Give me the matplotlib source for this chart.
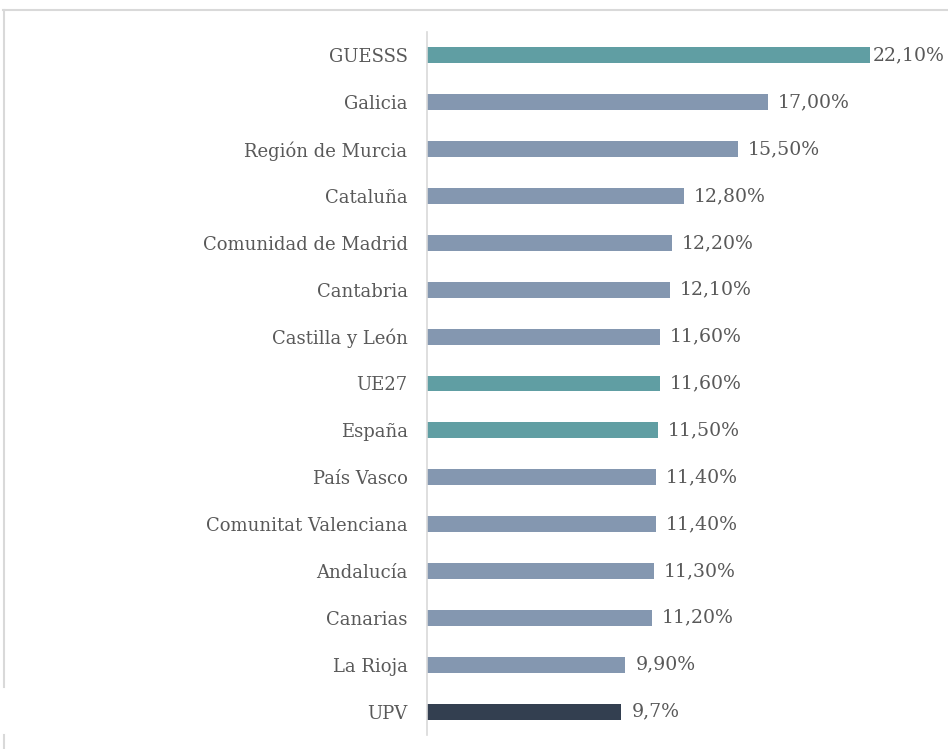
import matplotlib
matplotlib.use("Agg")
import matplotlib.pyplot as plt
from matplotlib.lines import Line2D

categories = ["GUESSS", "Galicia", "Región de Murcia", "Cataluña", "Comunidad de Madrid",
              "Cantabria", "Castilla y León", "UE27", "España", "País Vasco",
              "Comunitat Valenciana", "Andalucía", "Canarias", "La Rioja", "UPV"]
values = [22.1, 17.0, 15.5, 12.8, 12.2, 12.1, 11.6, 11.6, 11.5, 11.4, 11.4, 11.3, 11.2, 9.9, 9.7]
value_labels = ["22,10%", "17,00%", "15,50%", "12,80%", "12,20%", "12,10%", "11,60%", "11,60%",
                "11,50%", "11,40%", "11,40%", "11,30%", "11,20%", "9,90%", "9,7%"]
groups = ["ref", "reg", "reg", "reg", "reg", "reg", "reg", "ref", "ref", "reg",
          "reg", "reg", "reg", "reg", "upv"]

color_map = {"ref": "#609EA3", "reg": "#8497B0", "upv": "#333F50"}
text_color = "#595959"
font = "DejaVu Serif"

W, H = 948, 749
fig = plt.figure(figsize=(W / 100, H / 100), dpi=100)
ax = fig.add_axes([427 / W, 1 - 735 / H, (W - 427) / W, (735 - 32) / H])

ypos = list(range(len(categories)))
ax.barh(ypos, values, height=0.34, color=[color_map[g] for g in groups])
ax.set_ylim(len(categories) - 0.5, -0.5)
ax.set_xlim(0, (W - 427) / 20.05)

for i, (v, lab) in enumerate(zip(values, value_labels)):
    off = 3 if i == 0 else 10
    ax.annotate(lab, (v, i), xytext=(off * 0.72, 0), textcoords="offset points",
                ha="left", va="center", fontsize=13.6, color=text_color,
                family=font, annotation_clip=False)

ax.set_yticks(ypos)
ax.set_yticklabels(categories, family=font, fontsize=13, color=text_color)
ax.tick_params(axis="y", length=0, pad=14)
ax.set_xticks([])
for s in ["top", "right", "bottom"]:
    ax.spines[s].set_visible(False)
ax.spines["left"].set_color("#D9D9D9")
ax.spines["left"].set_linewidth(1.2)

# outer frame lines
fc = "#D9D9D9"
fig.add_artist(Line2D([3 / W, 1], [1 - 10 / H, 1 - 10 / H], color=fc, lw=1.5, transform=fig.transFigure))
fig.add_artist(Line2D([4 / W, 4 / W], [1 - 10 / H, 1 - 687 / H], color=fc, lw=1.5, transform=fig.transFigure))
fig.add_artist(Line2D([4 / W, 4 / W], [1 - 735 / H, 0], color=fc, lw=1.5, transform=fig.transFigure))

fig.savefig("out.png", dpi=100)
